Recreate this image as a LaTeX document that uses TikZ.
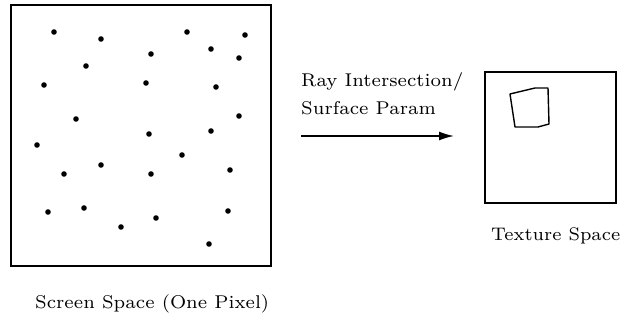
\documentclass[tikz,border=0pt]{standalone}
\usepackage{graphicx}
\usetikzlibrary{arrows.meta}
\newcommand{\bigtxt}[2][2.64]{\scalebox{#1}{\fontsize{7}{8}\selectfont #2}}
\begin{document}
\begin{tikzpicture}[x=1pt,y=-1pt,
  frame/.style={draw=black,line width=1.8pt},
  dot/.style={fill=black},
  lbl/.style={anchor=base west,inner sep=0pt},
  conn/.style={draw=black,line width=1.6pt,-{Latex[length=15pt,width=9pt]}}]
\useasboundingbox (0,0) rectangle (626,320);
% left square
\node[frame,minimum width=260pt,minimum height=261pt,inner sep=0pt,anchor=north west] (screen) at (10,4) {};
\foreach \px/\py in {54/32,101/39,187/32,245/35,151/54,211/49,239/58,86/66,44/85,146/83,216/87,
  76/119,239/116,149/134,211/131,37/145,182/155,101/165,64/174,151/174,230/170,
  48/212,84/208,228/211,156/218,121/227,209/244}
  \fill[dot] (\px,\py) circle (2.8pt);
% right square
\node[frame,minimum width=131pt,minimum height=131pt,inner sep=0pt,anchor=north west] (tex) at (484,71) {};
\draw[line width=1.4pt,line join=round] (510,94) -- (535,88) -- (548,88) -- (549,124) -- (538,127) -- (515,127) -- cycle;
% labels
\node[lbl] (l1) at (301,87) {\bigtxt{Ray Intersection/}};
\node[lbl] (l2) at (301,115) {\bigtxt{Surface Param}};
\node[lbl] (l3) at (491,241) {\bigtxt[2.6]{Texture Space}};
\node[lbl] (l4) at (35,308) {\bigtxt{Screen Space (One Pixel)}};
\coordinate (a0) at (301,136);
\coordinate (a1) at (454,136);
\draw[conn] (a0) -- (a1);
\end{tikzpicture}
\end{document}
